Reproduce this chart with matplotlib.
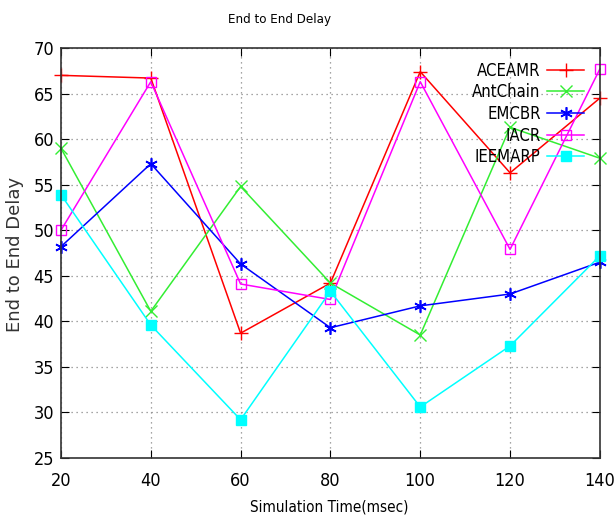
import matplotlib
matplotlib.use("Agg")
import matplotlib.pyplot as plt

plt.rcParams['font.family'] = ['DejaVu Sans']
plt.rcParams['font.stretch'] = 'condensed'

sim_time = [20, 40, 60, 80, 100, 120, 140]
aceamr = [67.0, 66.7, 38.7, 44.2, 67.4, 56.3, 64.5]
antchain = [59.0, 41.1, 54.8, 44.2, 38.5, 61.3, 57.9]
emcbr = [48.2, 57.3, 46.3, 39.3, 41.7, 43.0, 46.5]
iacr = [50.0, 66.3, 44.1, 42.4, 66.3, 47.9, 67.7]
ieemarp = [53.9, 39.6, 29.2, 43.3, 30.6, 37.3, 47.2]

fig = plt.figure(figsize=(6.14, 5.19), dpi=100)
ax = fig.add_axes([0.0993, 0.1175, 0.8777, 0.79])

ax.plot(sim_time, aceamr, color="red", lw=1.1, marker="+", ms=10, mew=1, label="ACEAMR", clip_on=False)
ax.plot(sim_time, antchain, color="#33ee33", lw=1.1, marker="x", ms=8, mew=1, label="AntChain", clip_on=False)
ax.plot(sim_time, emcbr, color="blue", lw=1.1, marker=(6, 2, 0), ms=9, mew=1.2, label="EMCBR", clip_on=False)
ax.plot(sim_time, iacr, color="magenta", lw=1.1, marker="s", ms=7, mew=1, mfc="none", label="IACR", clip_on=False)
ax.plot(sim_time, ieemarp, color="cyan", lw=1.1, marker="s", ms=7, label="IEEMARP", clip_on=False)

ax.set_xlim(20, 140)
ax.set_ylim(25, 70)
ax.set_xticks(sim_time)
ax.set_yticks(range(25, 71, 5))
ax.tick_params(direction="in", top=True, right=True, length=6, labelsize=13)
ax.tick_params(axis="x", pad=10)
ax.tick_params(axis="y", pad=5)
ax.grid(True, color="#888888", linestyle=(0, (1, 3)), lw=0.9)
for s in ax.spines.values():
    s.set_linewidth(1.2)
    s.set_color("#333333")

fig.text(280 / 614, 1 - 20 / 519, "End to End Delay", fontsize=9.5, ha="center", va="center")
fig.text(329 / 614, 1 - 507 / 519, "Simulation Time(msec)", fontsize=11, ha="center", va="center")
fig.text(15 / 614, 1 - 254 / 519, "End to End Delay", fontsize=13, fontstretch="normal",
         color="#333333", rotation=90, ha="center", va="center")

ax.legend(loc="upper right", bbox_to_anchor=(0.983, 0.983), frameon=False, markerfirst=False,
          fontsize=12, handlelength=2.2, labelspacing=0.22, borderaxespad=0, handletextpad=0.4)

fig.savefig("out.png", dpi=100)
